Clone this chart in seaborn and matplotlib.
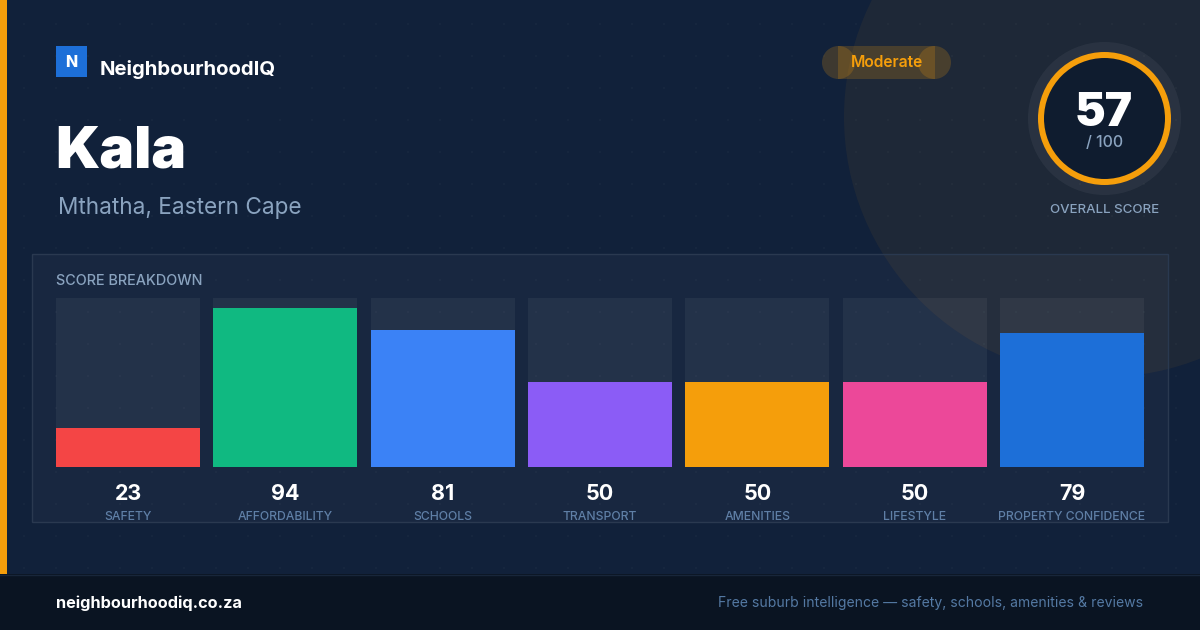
import matplotlib
matplotlib.use("Agg")
import matplotlib.pyplot as plt
import pandas as pd
import seaborn as sns
from matplotlib.patches import Circle, Rectangle

W, H = 1200, 630

categories = ["SAFETY", "AFFORDABILITY", "SCHOOLS", "TRANSPORT", "AMENITIES", "LIFESTYLE", "PROPERTY CONFIDENCE"]
scores = [23, 94, 81, 50, 50, 50, 79]
track = [100, 100, 100, 100, 100, 100, 100]
bar_colors = ["#f44545", "#10b981", "#3b82f6", "#8b5cf6", "#f59e0b", "#ec4899", "#1d6fd8"]

AMBER = "#f59e0b"
BG = "#11213a"
MUTED = "#8aa3bf"
LABEL = "#5f7fa6"

sns.set_theme(style="white")
plt.rcParams["font.family"] = ["Inter", "DejaVu Sans"]


def px(size):
    # css pixels to points at dpi 100
    return size * 0.72


fig = plt.figure(figsize=(W / 100, H / 100), dpi=100, facecolor=BG)

# Background layer, in pixel coordinates
bg = fig.add_axes([0, 0, 1, 1])
bg.set_xlim(0, W)
bg.set_ylim(H, 0)
bg.axis("off")

bg.add_patch(Circle((1104, 117), 260, fc=AMBER, alpha=0.06, lw=0, zorder=1))

dots_x = [x for x in range(24, W, 32) for y in range(24, 570, 32)]
dots_y = [y for x in range(24, W, 32) for y in range(24, 570, 32)]
bg.scatter(dots_x, dots_y, s=1.5, marker="s", color="white", alpha=0.025, lw=0, zorder=2)

bg.add_patch(Rectangle((0, 0), 7, 574, fc=AMBER, lw=0, zorder=3))
bg.add_patch(Rectangle((0, 574), W, 56, fc="#0a1422", lw=0, zorder=3))
bg.plot([0, W], [574.5, 574.5], color="#18263a", lw=1, zorder=4)

# Score breakdown panel
bg.add_patch(Rectangle((32, 254), 1136, 268, fc="white", alpha=0.03, lw=0, zorder=3))
bg.add_patch(Rectangle((32, 254), 1136, 268, fill=False, ec="#2a3950", lw=1, zorder=4))

# Logo and heading
bg.add_patch(Rectangle((56, 46), 31, 31, fc="#1d6fd8", lw=0, zorder=5))
bg.text(71, 67, "N", color="white", fontsize=px(16), fontweight="heavy", ha="center", va="baseline", zorder=6)
bg.text(100, 75, "NeighbourhoodIQ", color="white", fontsize=px(20.3), fontweight="bold", va="baseline", zorder=6)
bg.text(55, 168, "Kala", color="white", fontsize=px(58.5), fontweight="black", va="baseline", zorder=6)
bg.text(58, 214, "Mthatha, Eastern Cape", color=MUTED, fontsize=px(22.6), va="baseline", zorder=6)

# Moderate pill
bg.add_patch(Rectangle((838, 46), 97, 33, fc=AMBER, alpha=0.2, lw=0, zorder=5))
bg.add_patch(Circle((838.5, 62.5), 16.5, fc=AMBER, alpha=0.2, lw=0, zorder=5))
bg.add_patch(Circle((934.5, 62.5), 16.5, fc=AMBER, alpha=0.2, lw=0, zorder=5))
bg.text(886.5, 67, "Moderate", color=AMBER, fontsize=px(15.6), fontweight="semibold", ha="center", va="baseline", zorder=6)

# Overall score gauge
bg.add_patch(Circle((1104.5, 118.5), 76.5, fc="white", alpha=0.05, lw=0, zorder=5))
bg.add_patch(Circle((1104.5, 118.5), 63.5, fc="#0f1c2f", ec=AMBER, lw=px(6), zorder=6))
bg.text(1104, 126, "57", color="white", fontsize=px(46), fontweight="black", ha="center", va="baseline", zorder=7)
bg.text(1104.5, 147, "/ 100", color=MUTED, fontsize=px(16), fontweight="medium", ha="center", va="baseline", zorder=7)
bg.text(1104.5, 213, "OVERALL SCORE", color=MUTED, fontsize=px(13.3), fontweight="medium", ha="center", va="baseline", zorder=7)

bg.text(56, 285, "SCORE BREAKDOWN", color=MUTED, fontsize=px(14.4), fontweight="medium", va="baseline", zorder=7)

# Footer
bg.text(56, 608, "neighbourhoodiq.co.za", color="white", fontsize=px(16.3), fontweight="bold", va="baseline", zorder=7)
bg.text(1143.5, 607, "Free suburb intelligence — safety, schools, amenities & reviews", color="#5479a3",
        fontsize=px(14), ha="right", va="baseline", zorder=7)

# Bars
ax = fig.add_axes([56 / W, 1 - 466.7 / H, (1144 - 56) / W, (467 - 298) / H])
ax.patch.set_alpha(0)
df = pd.DataFrame({"category": categories, "score": scores, "track": track})
bar_width = 144 / (944 / 6)
sns.barplot(data=df, x="category", y="track", color="white", alpha=0.05, width=bar_width, saturation=1,
            linewidth=0, edgecolor="none", ax=ax)
sns.barplot(data=df, x="category", y="score", hue="category", palette=bar_colors, legend=False,
            width=bar_width, saturation=1, linewidth=0, edgecolor="none", ax=ax)
ax.set_xlim(-0.5 * bar_width, len(categories) - 1 + 0.5 * bar_width)
ax.set_ylim(0, 100)
ax.set_xlabel("")
ax.set_ylabel("")
ax.set_yticks([])
ax.tick_params(axis="x", length=0, pad=31.9, labelsize=px(12.2), labelcolor=LABEL)
for label in ax.get_xticklabels():
    label.set_fontweight("medium")
sns.despine(ax=ax, left=True, bottom=True)

for i, value in enumerate(scores):
    ax.annotate(str(value), xy=(i, 0), xycoords=("data", "axes fraction"), xytext=(0, -27 * 0.72),
                textcoords="offset points", color="white", fontsize=px(21.5), fontweight="bold",
                ha="center", va="center")

fig.savefig("out.png", dpi=100, facecolor=BG)
